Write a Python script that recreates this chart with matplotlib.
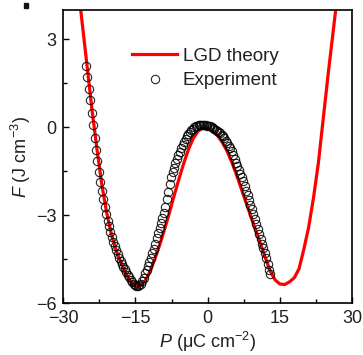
#!/usr/bin/env python3
"""Double-well free energy: LGD theory curve against experiment points."""

from __future__ import annotations

import matplotlib

matplotlib.use("Agg")
import matplotlib.pyplot as plt  # noqa: E402
from matplotlib.patches import Rectangle  # noqa: E402
from matplotlib.ticker import MultipleLocator  # noqa: E402

# LGD theory curve, P (uC cm^-2) and F (J cm^-3)
P_THEORY = [
    -27, -26, -25, -24, -23, -22, -21, -20, -19, -18, -17, -16, -15, -14,
    -13, -12, -11, -10, -9, -8, -7, -6, -5, -4, -3, -2, -1, 0,
    1, 2, 3, 4, 5, 6, 7, 8, 9, 10, 11, 12, 13, 14,
    15, 16, 17, 18, 19, 20, 21, 22, 23, 24, 25, 26, 27,
]
F_THEORY = [
    4.90, 3.45, 2.00, 0.55, -0.75, -1.95, -2.90, -3.65, -4.20, -4.62, -4.98, -5.27, -5.42, -5.40,
    -5.24, -4.92, -4.50, -4.02, -3.50, -2.94, -2.35, -1.78, -1.24, -0.76, -0.38, -0.13, -0.02, -0.02,
    -0.12, -0.27, -0.50, -0.80, -1.18, -1.62, -2.10, -2.58, -3.05, -3.52, -3.98, -4.45, -4.90, -5.20,
    -5.34, -5.36, -5.27, -5.13, -4.82, -4.15, -3.40, -2.40, -1.23, 0.26, 1.75, 3.15, 4.55,
]

# experiment points
P_EXP = [
    -25.3, -25.0, -24.7, -24.4, -24.1, -23.8, -23.5, -23.2, -22.9, -22.6,
    -22.3, -22.0, -21.7, -21.4, -21.1, -20.8, -20.5, -20.2, -19.9, -19.6,
    -19.3, -19.0, -18.7, -18.4, -18.1, -17.8, -17.5, -17.2, -16.9, -16.6,
    -16.3, -16.0, -15.7, -15.4, -15.1, -14.8, -14.5, -14.2, -13.9, -13.6,
    -13.3, -13.0, -12.7, -12.4, -12.1, -11.8, -11.5, -11.2, -10.9, -10.6,
    -10.3, -10.0, -9.7, -9.4, -9.1, -8.8, -8.5, -8.2, -7.9, -7.6,
    -7.3, -7.0, -6.7, -6.4, -6.1, -5.8, -5.5, -5.2, -4.9, -4.6,
    -4.3, -4.0, -3.7, -3.4, -3.1, -2.8, -2.5, -2.2, -1.9, -1.6,
    -1.3, -1.0, -0.7, -0.4, -0.1, 0.2, 0.5, 0.8, 1.1, 1.4,
    1.7, 2.0, 2.3, 2.6, 2.9, 3.2, 3.5, 3.8, 4.1, 4.4,
    4.7, 5.0, 5.3, 5.6, 5.9, 6.2, 6.5, 6.8, 7.1, 7.4,
    7.7, 8.0, 8.3, 8.6, 8.9, 9.2, 9.5, 9.8, 10.1, 10.4,
    10.7, 11.0, 11.3, 11.6, 11.9, 12.2, 12.5, 12.8, 13.0,
]
F_EXP = [
    2.10, 1.72, 1.32, 0.92, 0.50, 0.08, -0.36, -0.78, -1.16, -1.52,
    -1.86, -2.16, -2.45, -2.72, -2.97, -3.18, -3.38, -3.57, -3.74, -3.90,
    -4.05, -4.19, -4.32, -4.44, -4.55, -4.65, -4.75, -4.84, -4.93, -5.02,
    -5.11, -5.19, -5.27, -5.34, -5.39, -5.42, -5.42, -5.39, -5.33, -5.24,
    -5.12, -4.98, -4.85, -4.72, -4.58, -4.44, -4.30, -4.14, -3.97, -3.79,
    -3.60, -3.43, -3.27, -3.10, -2.93, -2.70, -2.45, -2.19, -1.92, -1.70,
    -1.52, -1.37, -1.23, -1.09, -0.96, -0.84, -0.72, -0.61, -0.50, -0.40,
    -0.31, -0.23, -0.16, -0.10, -0.04, 0.00, 0.03, 0.06, 0.08, 0.09,
    0.09, 0.09, 0.08, 0.07, 0.06, 0.05, 0.04, 0.02, -0.01, -0.04,
    -0.08, -0.12, -0.16, -0.20, -0.25, -0.31, -0.38, -0.46, -0.54, -0.62,
    -0.71, -0.82, -0.94, -1.07, -1.20, -1.33, -1.46, -1.59, -1.71, -1.84,
    -2.00, -2.16, -2.32, -2.48, -2.64, -2.80, -2.96, -3.13, -3.31, -3.48,
    -3.65, -3.81, -3.97, -4.12, -4.28, -4.46, -4.66, -4.86, -4.99,
]

X_TICKS = [-30, -15, 0, 15, 30]
Y_TICKS = [-6, -3, 0, 3]

LINE_COLOR = "#ff0000"
TEXT_COLOR = "#231f20"
FONT = "Liberation Sans"


def main() -> None:
    plt.rcParams["font.family"] = [FONT, "DejaVu Sans"]
    plt.rcParams["mathtext.fontset"] = "custom"
    plt.rcParams["mathtext.rm"] = FONT
    plt.rcParams["mathtext.it"] = f"{FONT}:italic"

    fig = plt.figure(figsize=(3.63, 3.55), dpi=100)
    ax = fig.add_axes([0.1744, 0.1456, 0.7953, 0.8262])

    ax.plot(P_THEORY, F_THEORY, color=LINE_COLOR, lw=2.3, label="LGD theory", zorder=2)
    ax.plot(
        P_EXP, F_EXP, ls="none", marker="o", ms=6.0, mfc="none",
        mec="black", mew=0.8, alpha=0.85, label="Experiment", zorder=3,
    )

    ax.set_xlim(-30, 30)
    ax.set_ylim(-6, 4)
    ax.set_xticks(X_TICKS)
    ax.set_yticks(Y_TICKS)
    ax.xaxis.set_minor_locator(MultipleLocator(7.5))
    ax.yaxis.set_minor_locator(MultipleLocator(1.5))
    ax.tick_params(which="both", direction="in", top=False, right=False,
                   width=1.0, labelsize=13, labelcolor=TEXT_COLOR, pad=5)
    ax.tick_params(which="major", length=4.5)
    ax.tick_params(which="minor", length=3)
    for spine in ax.spines.values():
        spine.set_linewidth(1.2)

    ax.set_xlabel(r"$\it{P}$ (μC cm$^{-2}$)", fontsize=13, color=TEXT_COLOR, labelpad=2)
    ax.set_ylabel(r"$\it{F}$ (J cm$^{-3}$)", fontsize=13, color=TEXT_COLOR, labelpad=2)

    ax.legend(
        loc="upper left", bbox_to_anchor=(0.238, 0.872), frameon=False,
        fontsize=13.5, handlelength=2.4, handletextpad=0.3, labelspacing=0.4,
        borderpad=0, borderaxespad=0, labelcolor=TEXT_COLOR,
    )

    # leftover panel mark in the corner
    fig.patches.append(Rectangle((24 / 363, 1 - 8 / 355), 4 / 363, 5 / 355,
                                 transform=fig.transFigure, color="#111111"))

    fig.savefig("out.png", dpi=100)
    plt.close(fig)


if __name__ == "__main__":
    main()
